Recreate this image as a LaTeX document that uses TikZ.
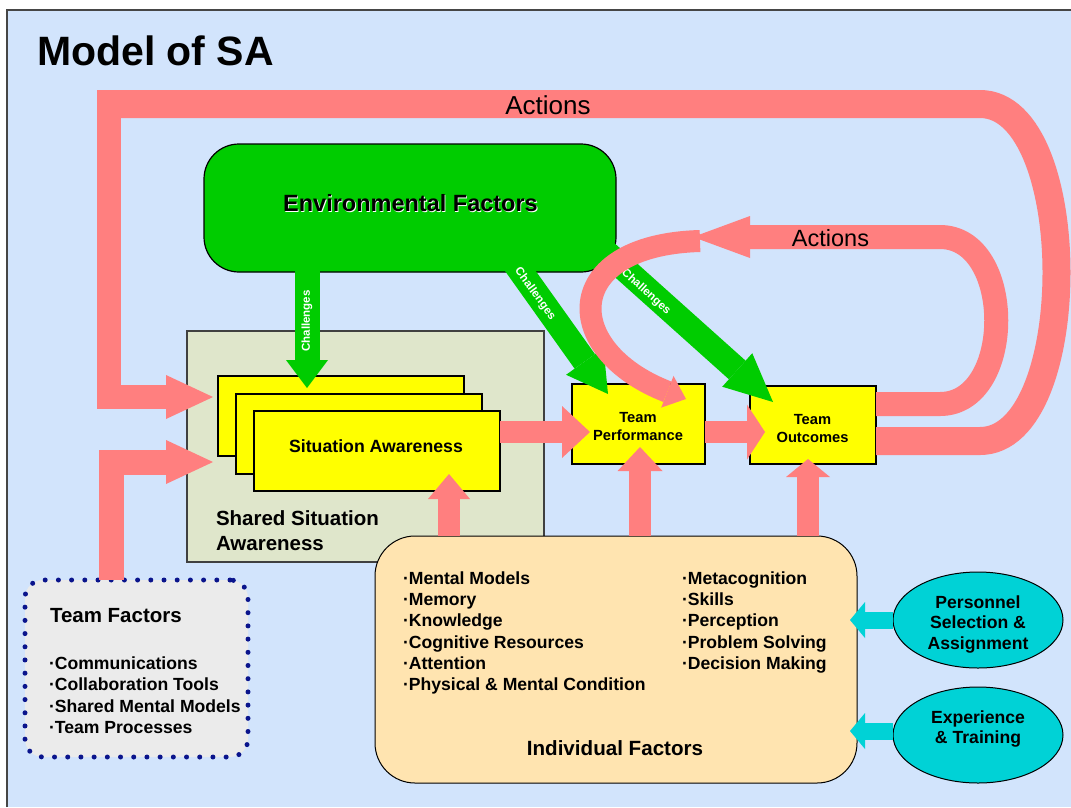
\documentclass[tikz,border=0pt]{standalone}
\usepackage{fontspec}
\setmainfont{Liberation Sans}
\usetikzlibrary{arrows.meta,shapes.geometric}
\definecolor{bgblue}{RGB}{210,228,252}
\definecolor{pinkc}{RGB}{255,127,127}
\definecolor{greenc}{RGB}{0,204,0}
\definecolor{yell}{RGB}{255,255,0}
\definecolor{ssac}{RGB}{223,230,203}
\definecolor{indc}{RGB}{255,228,176}
\definecolor{tfc}{RGB}{235,235,235}
\definecolor{cyanc}{RGB}{0,210,214}
\definecolor{navyc}{RGB}{10,20,140}
\definecolor{framec}{RGB}{70,70,70}
\newcommand{\rsz}[1]{\fontsize{#1}{#1}\selectfont}
\newcommand{\bsz}[1]{\fontsize{#1}{#1}\selectfont\bfseries}
\newcommand{\bszl}[2]{\fontsize{#1}{#2}\selectfont\bfseries}
\begin{document}
\begin{tikzpicture}[x=1pt,y=-1pt,
  lbl/.style={inner sep=0pt,outer sep=0pt},
  shp/.style={inner sep=0pt,outer sep=0pt,anchor=north west},
  ybox/.style={shp,draw=black,line width=1.4pt,fill=yell},
  pk/.style={draw=pinkc,line join=miter},
  gr/.style={draw=greenc,line width=25pt},
  cy/.style={draw=cyanc,line width=17pt},
]
\useasboundingbox (0,0) rectangle (1071,807);
\fill[white] (0,0) rectangle (1071,807);
\fill[bgblue] (7,10) rectangle (1071,807);
\draw[framec,line width=1.3pt] (7,807) -- (7,10) -- (1071,10);

\node[lbl,anchor=base west,font=\bsz{41}] (title) at (37,65) {Model of SA};

% boxes
\node[shp,draw=black!75,line width=1.3pt,fill=ssac,minimum width=357pt,minimum height=231pt] (ssa) at (187,331) {};
\node[ybox,minimum width=246pt,minimum height=80pt] (sa1) at (218,376) {};
\node[ybox,minimum width=246pt,minimum height=80pt] (sa2) at (236,394) {};
\node[ybox,minimum width=246pt,minimum height=80pt] (sa3) at (254,411) {};
\node[ybox,minimum width=133pt,minimum height=80pt] (tp) at (572,384) {};
\node[ybox,minimum width=126pt,minimum height=78pt] (to) at (750,386) {};
\node[shp,draw=black,line width=1.2pt,fill=greenc,rounded corners=35pt,minimum width=412pt,minimum height=128pt] (env) at (204,144) {};
\node[shp,draw=black,line width=1pt,fill=indc,rounded corners=40pt,minimum width=482pt,minimum height=247pt] (ind) at (375,536) {};
\node[shp,draw=navyc,line width=5pt,dash pattern=on 0pt off 13.2pt,line cap=round,fill=tfc,rounded corners=18pt,minimum width=223pt,minimum height=177pt] (tf) at (25,580) {};
\node[ellipse,draw=black,line width=1pt,fill=cyanc,minimum width=170pt,minimum height=96pt,inner sep=0pt] (pe) at (978,620) {};
\node[ellipse,draw=black,line width=1pt,fill=cyanc,minimum width=170pt,minimum height=96pt,inner sep=0pt] (ex) at (978,735) {};

% box texts (anchor=base of a multi-line node is the baseline of its last line)
\node[lbl,text=white,font=\bsz{23.5}] (envsh) at (411.3,204.3) {Environmental Factors};
\node[lbl,font=\bsz{23.5}] (envt) at (410.5,203.5) {Environmental Factors};
\node[lbl,anchor=base,font=\bsz{17.7}] (sat) at (376,452.4) {Situation Awareness};
\node[lbl,anchor=base west,align=left,font=\bszl{20.5}{24.5}] (ssat) at (216,550) {Shared Situation\\Awareness};
\node[lbl,anchor=base,align=center,font=\bszl{14.7}{18}] (tpt) at (638,440.3) {Team\\Performance};
\node[lbl,anchor=base,align=center,font=\bszl{14.7}{18}] (tot) at (812.5,442.3) {Team\\Outcomes};
\node[lbl,anchor=base west,align=left,font=\bszl{17.6}{21.2}] (indl) at (403,690.5) {·Mental Models\\·Memory\\·Knowledge\\·Cognitive Resources\\·Attention\\·Physical \& Mental Condition};
\node[lbl,anchor=base west,align=left,font=\bszl{17.6}{21.2}] (indr) at (682,669.3) {·Metacognition\\·Skills\\·Perception\\·Problem Solving\\·Decision Making};
\node[lbl,anchor=base,font=\bsz{20.6}] (indt) at (615,755.4) {Individual Factors};
\node[lbl,anchor=base west,font=\bsz{20.5}] (tft) at (50,622.3) {Team Factors};
\node[lbl,anchor=base west,align=left,font=\bszl{17.6}{21.3}] (tfl) at (49,733.4) {·Communications\\·Collaboration Tools\\·Shared Mental Models\\·Team Processes};
\node[lbl,anchor=base,align=center,font=\bszl{17.6}{20.5}] (pet) at (978,649.3) {Personnel\\Selection \&\\Assignment};
\node[lbl,anchor=base,align=center,font=\bszl{17.6}{20.5}] (ext) at (978,743.8) {Experience\\\& Training};

% green challenge arrows
\draw[gr,-{Triangle[length=28pt,width=42pt,line width=0pt]}] ([xshift=-103pt,yshift=17pt]env.south) -- ([xshift=-34pt,yshift=-12pt]sa1.north);
\draw[gr,-{Triangle[length=40pt,width=46pt,line width=0pt]}] ([xshift=99pt,yshift=17pt]env.south) -- ([xshift=36pt,yshift=-10pt]tp.north west);
\draw[gr,-{Triangle[length=48pt,width=45pt,line width=0pt]}] ([xshift=190pt,yshift=25pt]env.south) -- ([xshift=23pt,yshift=-16pt]to.north west);
\node[lbl,text=white,font=\bsz{11.5},rotate=90] (ch1) at (307,321) {Challenges};
\node[lbl,text=white,font=\bsz{11.5},rotate=-54] (ch2) at (535,294) {Challenges};
\node[lbl,text=white,font=\bsz{11.5},rotate=-42] (ch3) at (646,292) {Challenges};

% pink arrows
\coordinate (ia) at (693,237);
\coordinate (lc0) at (700,241);
\draw[pk,line width=24pt,-{Triangle[length=57pt,width=42pt,line width=0pt]}] ([yshift=21pt]to.east) -- (940,404) .. controls (1015,404) and (1015,237) .. (940,237) -- (ia);
\draw[pk,line width=22pt,-{Triangle[length=20pt,width=34pt,line width=0pt]}] (lc0) .. controls (560,245) and (560,350) .. ([xshift=-19pt,yshift=-15pt]tp.north east);
\node[lbl,anchor=base,font=\rsz{23.5}] (act2) at (830.5,246.5) {Actions};

\coordinate (olc) at (109,104);
\draw[pk,line width=28pt] ([yshift=-16pt]to.east) -- (980,441) .. controls (1082,441) and (1082,104) .. (980,104) -- (olc);
\draw[pk,line width=24pt,-{Triangle[length=47pt,width=44pt,line width=0pt]}] ([yshift=14pt]olc) -- (109,397) -- ([xshift=-5pt,yshift=19pt]sa1.west);
\node[lbl,anchor=base,font=\rsz{26}] (act1) at (548,114) {Actions};
\draw[pk,line width=25pt,-{Triangle[length=47pt,width=44pt,line width=0pt]}] ([xshift=86pt]tf.north west) -- (111,462) -- ([xshift=-5pt,yshift=-46pt]sa1.west);

\draw[pk,line width=22pt,-{Triangle[length=28pt,width=52pt,line width=0pt]}] ([yshift=19pt]sa3.east) -- ([xshift=18pt,yshift=-8pt]tp.west);
\draw[pk,line width=22pt,-{Triangle[length=18pt,width=55pt,line width=0pt]}] ([yshift=-8pt]tp.east) -- ([xshift=15pt,yshift=-7pt]to.west);

\draw[pk,line width=22pt,-{Triangle[length=25pt,width=42pt,line width=0pt]}] ([xshift=-167pt]ind.north) -- ([xshift=72pt,yshift=17pt]sa3.south);
\draw[pk,line width=22pt,-{Triangle[length=24pt,width=45pt,line width=0pt]}] ([xshift=24pt]ind.north) -- ([xshift=1.5pt,yshift=17pt]tp.south);
\draw[pk,line width=22pt,-{Triangle[length=18pt,width=44pt,line width=0pt]}] ([xshift=192pt]ind.north) -- ([xshift=-5pt,yshift=5pt]to.south);

% cyan arrows
\coordinate (cy1) at (850,620);
\coordinate (cy2) at (850,731);
\draw[cy,-{Triangle[length=15pt,width=36pt,line width=0pt]}] (pe.west) -- (cy1);
\draw[cy,-{Triangle[length=15pt,width=36pt,line width=0pt]}] ([yshift=4pt]ex.west) -- (cy2);
\end{tikzpicture}
\end{document}
